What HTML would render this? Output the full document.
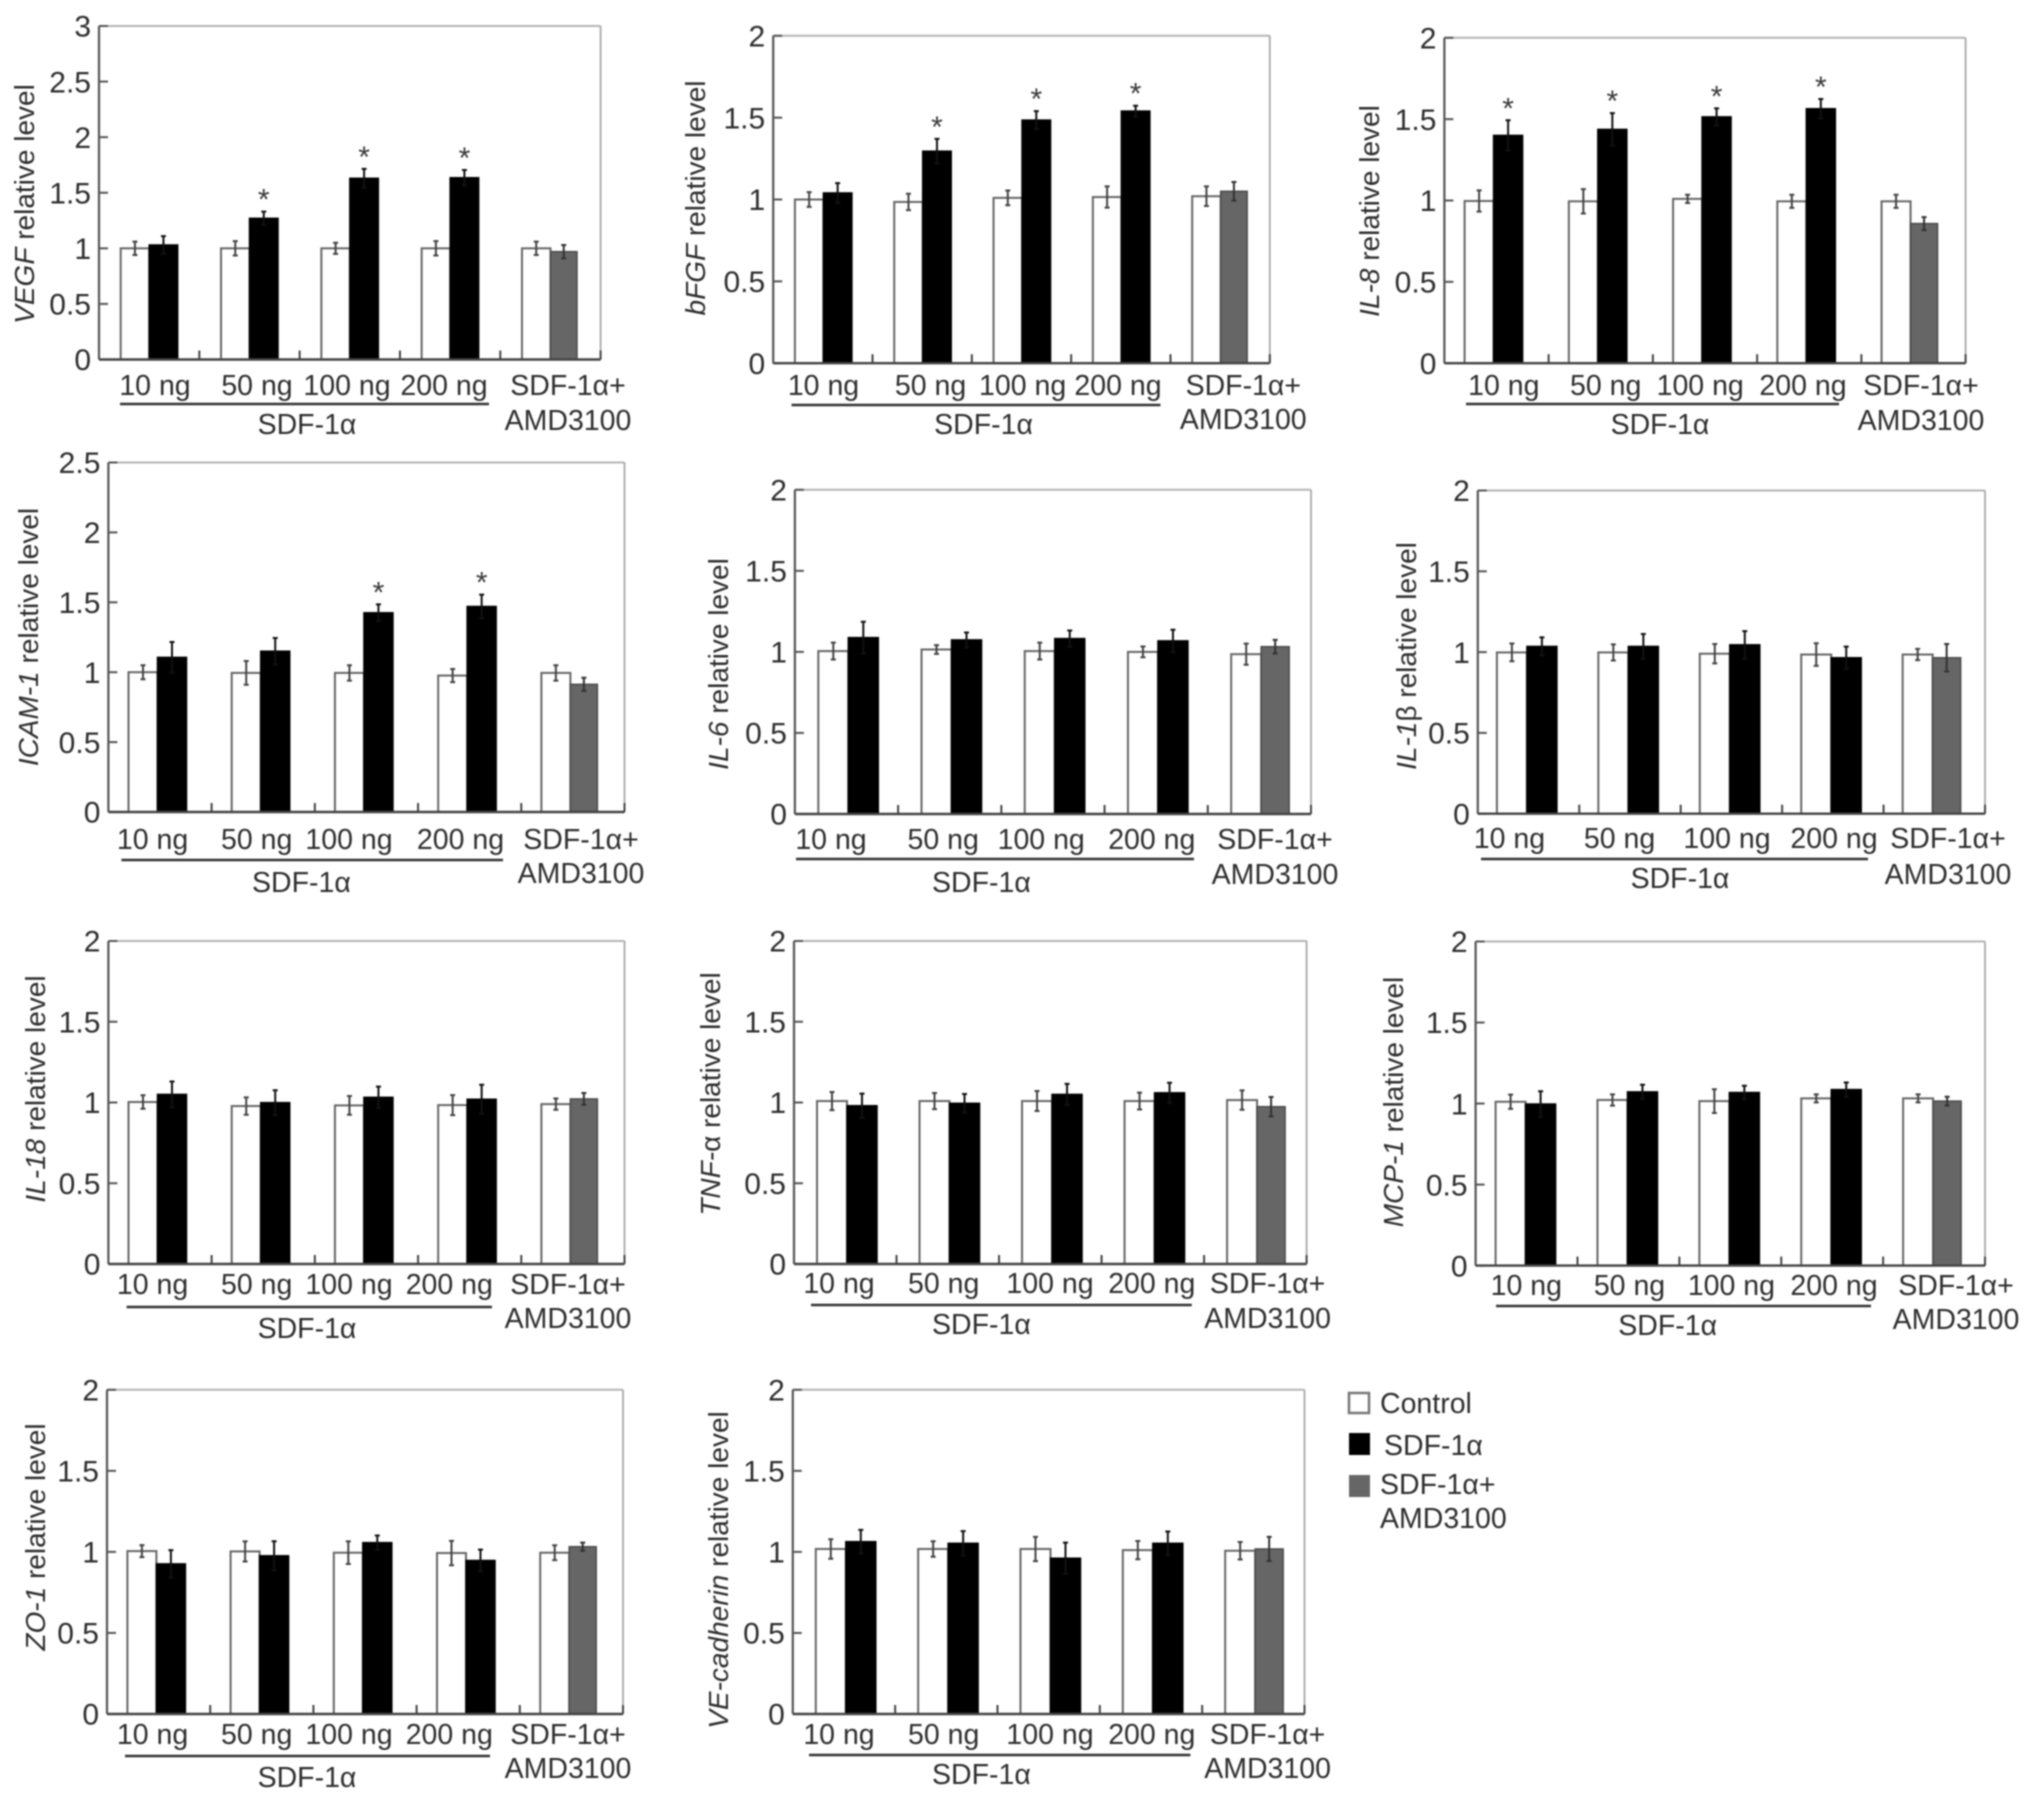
<!DOCTYPE html>
<html lang="en">
<head>
<meta charset="utf-8">
<title>SDF-1α relative expression levels</title>
<style>
html,body{margin:0;padding:0;background:#fff;}
#figure{display:block;width:2032px;height:1800px;filter:blur(0.8px);}
text{font-family:"Liberation Sans",sans-serif;font-size:28.5px;fill:#2e2e2e;}
text.tick{font-size:30px;}
text.ytitle{font-size:28px;}
text.star{font-size:30px;fill:#3a3a3a;}
</style>
</head>
<body>
<svg id="figure" xmlns="http://www.w3.org/2000/svg" width="2032" height="1800" viewBox="0 0 2032 1800">
  <g>
    <g>
      <rect x="1349" y="1393" width="20" height="20" fill="#fff" stroke="#777" stroke-width="2.5"/>
      <text x="1380" y="1413">Control</text>
    </g>
    <g>
      <rect x="1349" y="1433" width="21" height="22" fill="#000"/>
      <text x="1384" y="1455">SDF-1α</text>
    </g>
    <g>
      <rect x="1349" y="1475" width="21" height="22" fill="#666"/>
      <text x="1380" y="1494">SDF-1α+</text>
      <text x="1380" y="1528">AMD3100</text>
    </g>
  </g>
</svg>
<script>
// ---------- shared categories and tick labels ----------
const doseLabels = ['10 ng', '50 ng', '100 ng', '200 ng'];
const ticksTo2 = ['0', '0.5', '1', '1.5', '2'];
const ticksTo25 = ['0', '0.5', '1', '1.5', '2', '2.5'];
const ticksTo3 = ['0', '0.5', '1', '1.5', '2', '2.5', '3'];

// ---------- series values ----------
const vegfControl = [1.0, 1.0, 1.0, 1.0, 1.0];
const vegfTreated = [1.03, 1.27, 1.63, 1.635, 0.97];
const vegfControlErr = [0.06, 0.065, 0.05, 0.065, 0.06];
const vegfTreatedErr = [0.08, 0.06, 0.085, 0.07, 0.06];
const vegfStars = [0, 1, 1, 1, 0];

const bfgfControl = [1.0, 0.985, 1.01, 1.015, 1.02];
const bfgfTreated = [1.04, 1.295, 1.485, 1.54, 1.05];
const bfgfControlErr = [0.045, 0.05, 0.045, 0.065, 0.06];
const bfgfTreatedErr = [0.06, 0.075, 0.055, 0.033, 0.057];
const bfgfStars = [0, 1, 1, 1, 0];

const il8Control = [0.997, 0.995, 1.01, 0.995, 0.995];
const il8Treated = [1.4, 1.437, 1.514, 1.564, 0.858];
const il8ControlErr = [0.065, 0.075, 0.025, 0.04, 0.04];
const il8TreatedErr = [0.093, 0.1, 0.052, 0.06, 0.04];
const il8Stars = [1, 1, 1, 1, 0];

const icamControl = [1.0, 0.995, 0.995, 0.976, 0.995];
const icamTreated = [1.106, 1.15, 1.425, 1.47, 0.913];
const icamControlErr = [0.05, 0.085, 0.055, 0.047, 0.055];
const icamTreatedErr = [0.11, 0.095, 0.06, 0.085, 0.047];
const icamStars = [0, 0, 1, 1, 0];

const il6Control = [1.005, 1.015, 1.005, 1.0, 0.986];
const il6Treated = [1.088, 1.074, 1.082, 1.068, 1.032];
const il6ControlErr = [0.052, 0.027, 0.052, 0.033, 0.065];
const il6TreatedErr = [0.098, 0.046, 0.05, 0.069, 0.042];
const il6Stars = [0, 0, 0, 0, 0];

const il1bControl = [0.998, 0.998, 0.99, 0.985, 0.985];
const il1bTreated = [1.035, 1.035, 1.045, 0.965, 0.965];
const il1bControlErr = [0.055, 0.05, 0.06, 0.07, 0.035];
const il1bTreatedErr = [0.056, 0.077, 0.085, 0.069, 0.085];
const il1bStars = [0, 0, 0, 0, 0];

const il18Control = [1.003, 0.978, 0.982, 0.984, 0.99];
const il18Treated = [1.05, 0.999, 1.032, 1.02, 1.022];
const il18ControlErr = [0.042, 0.054, 0.058, 0.062, 0.035];
const il18TreatedErr = [0.08, 0.077, 0.066, 0.09, 0.037];
const il18Stars = [0, 0, 0, 0, 0];

const tnfControl = [1.009, 1.009, 1.009, 1.009, 1.015];
const tnfTreated = [0.98, 0.995, 1.05, 1.06, 0.974];
const tnfControlErr = [0.056, 0.05, 0.062, 0.052, 0.06];
const tnfTreatedErr = [0.075, 0.058, 0.065, 0.062, 0.06];
const tnfStars = [0, 0, 0, 0, 0];

const mcpControl = [1.011, 1.022, 1.015, 1.032, 1.032];
const mcpTreated = [0.997, 1.072, 1.068, 1.086, 1.015];
const mcpControlErr = [0.044, 0.035, 0.073, 0.025, 0.025];
const mcpTreatedErr = [0.079, 0.044, 0.042, 0.044, 0.027];
const mcpStars = [0, 0, 0, 0, 0];

const zoControl = [1.005, 1.003, 0.995, 0.993, 0.995];
const zoTreated = [0.926, 0.976, 1.057, 0.947, 1.032];
const zoControlErr = [0.037, 0.062, 0.07, 0.075, 0.046];
const zoTreatedErr = [0.085, 0.09, 0.044, 0.067, 0.025];
const zoStars = [0, 0, 0, 0, 0];

const vecadControl = [1.018, 1.018, 1.018, 1.011, 1.007];
const vecadTreated = [1.063, 1.053, 0.961, 1.053, 1.018];
const vecadControlErr = [0.06, 0.048, 0.075, 0.056, 0.054];
const vecadTreatedErr = [0.073, 0.075, 0.096, 0.073, 0.075];
const vecadStars = [0, 0, 0, 0, 0];

// ---------- panel definitions ----------
// Frame and label geometry in page pixels; pad and barW shape the band scale.
const panels = [
  {id:'vegf', title:[['VEGF',1],[' relative level',0]], ticks:ticksTo3, ctrl:vegfControl, trt:vegfTreated, ce:vegfControlErr, te:vegfTreatedErr, stars:vegfStars,
   L:99, R:600.6, T:26, B:359.5, pad:21.7, barW:28.5, doseX:[155,257,347,444], gx:568, sx:307, ul:[120,489], ulY:404, base:395, sdfBase:434, amdBase:430, titleX:34, titleY:204},
  {id:'bfgf', title:[['bFGF',1],[' relative level',0]], ticks:ticksTo2, ctrl:bfgfControl, trt:bfgfTreated, ce:bfgfControlErr, te:bfgfTreatedErr, stars:bfgfStars,
   L:773.2, R:1269.8, T:35.8, B:363.2, pad:21.7, barW:28.5, doseX:[823.5,930.6,1022.6,1118], gx:1243.3, sx:983.6, ul:[791.5,1160.5], ulY:405, base:395, sdfBase:434, amdBase:429, titleX:705, titleY:198},
  {id:'il8', title:[['IL-8',1],[' relative level',0]], ticks:ticksTo2, ctrl:il8Control, trt:il8Treated, ce:il8ControlErr, te:il8TreatedErr, stars:il8Stars,
   L:1444.4, R:1965.6, T:37.8, B:363.2, pad:20.2, barW:29, doseX:[1503.8,1605.7,1700.2,1803], gx:1921, sx:1660, ul:[1466,1839], ulY:404, base:395, sdfBase:434, amdBase:430, titleX:1379, titleY:211},
  {id:'icam', title:[['ICAM-1',1],[' relative level',0]], ticks:ticksTo25, ctrl:icamControl, trt:icamTreated, ce:icamControlErr, te:icamTreatedErr, stars:icamStars,
   L:108.4, R:624.5, T:462.5, B:812, pad:20.1, barW:29, doseX:[152.6,256.7,349,460.5], gx:581, sx:301.4, ul:[121.4,503], ulY:860, base:849, sdfBase:892, amdBase:883, titleX:38, titleY:637},
  {id:'il6', title:[['IL-6',1],[' relative level',0]], ticks:ticksTo2, ctrl:il6Control, trt:il6Treated, ce:il6ControlErr, te:il6TreatedErr, stars:il6Stars,
   L:794.9, R:1311, T:489.8, B:814, pad:23.4, barW:30, doseX:[831,943.2,1041.2,1151.8], gx:1275, sx:981.4, ul:[796,1194], ulY:859, base:849, sdfBase:892, amdBase:884, titleX:728, titleY:664},
  {id:'il1b', title:[['IL-1',1],['β relative level',0]], ticks:ticksTo2, ctrl:il1bControl, trt:il1bTreated, ce:il1bControlErr, te:il1bTreatedErr, stars:il1bStars,
   L:1477.8, R:1985, T:490.5, B:813.7, pad:19.1, barW:30, doseX:[1509.4,1619.6,1727,1834], gx:1948, sx:1680, ul:[1481,1868], ulY:859, base:848, sdfBase:888, amdBase:884, titleX:1416, titleY:656},
  {id:'il18', title:[['IL-18',1],[' relative level',0]], ticks:ticksTo2, ctrl:il18Control, trt:il18Treated, ce:il18ControlErr, te:il18TreatedErr, stars:il18Stars,
   L:108.4, R:624.5, T:941, B:1264, pad:20.1, barW:29, doseX:[152.6,256.7,349,449.3], gx:568, sx:307, ul:[126.6,492], ulY:1307, base:1294, sdfBase:1338, amdBase:1328, titleX:45, titleY:1089},
  {id:'tnf', title:[['TNF-',1],['α relative level',0]], ticks:ticksTo2, ctrl:tnfControl, trt:tnfTreated, ce:tnfControlErr, te:tnfTreatedErr, stars:tnfStars,
   L:794, R:1306.6, T:941, B:1264, pad:23, barW:30, doseX:[839,943.7,1050,1151.8], gx:1267.6, sx:981.4, ul:[811,1191.8], ulY:1305, base:1293, sdfBase:1334, amdBase:1328, titleX:720, titleY:1094},
  {id:'mcp', title:[['MCP-1',1],[' relative level',0]], ticks:ticksTo2, ctrl:mcpControl, trt:mcpTreated, ce:mcpControlErr, te:mcpTreatedErr, stars:mcpStars,
   L:1475.6, R:1985, T:941.5, B:1265.6, pad:20, barW:30, doseX:[1526.3,1629.5,1731.4,1834], gx:1956, sx:1667.7, ul:[1496,1871], ulY:1306, base:1295, sdfBase:1335, amdBase:1329, titleX:1403, titleY:1102},
  {id:'zo', title:[['ZO-1',1],[' relative level',0]], ticks:ticksTo2, ctrl:zoControl, trt:zoTreated, ce:zoControlErr, te:zoTreatedErr, stars:zoStars,
   L:107, R:623, T:1389.8, B:1714, pad:20.4, barW:29, doseX:[152.6,256.7,349,449.3], gx:568, sx:307, ul:[125,490], ulY:1756, base:1744, sdfBase:1787, amdBase:1778, titleX:45, titleY:1537},
  {id:'vecad', title:[['VE-cadherin',1],[' relative level',0]], ticks:ticksTo2, ctrl:vecadControl, trt:vecadTreated, ce:vecadControlErr, te:vecadTreatedErr, stars:vecadStars,
   L:792.8, R:1304.5, T:1389.8, B:1714, pad:23, barW:30, doseX:[839,943.7,1050,1151.8], gx:1267.6, sx:981.4, ul:[809,1190.4], ulY:1755, base:1744, sdfBase:1784, amdBase:1778, titleX:728, titleY:1570}
];

const svgNS = 'http://www.w3.org/2000/svg';
const root = document.getElementById('figure');

function make(tag, attrs, parent) {
  const node = document.createElementNS(svgNS, tag);
  for (const key in attrs) node.setAttribute(key, attrs[key]);
  parent.appendChild(node);
  return node;
}

function drawErrorBar(parent, x, yTop, yBottom, color, label) {
  const eb = make('path', {
    d: 'M' + x + ' ' + yTop + 'V' + yBottom + 'M' + (x - 2.5) + ' ' + yTop + 'H' + (x + 2.5) + 'M' + (x - 2.5) + ' ' + yBottom + 'H' + (x + 2.5),
    fill: 'none', stroke: color, 'stroke-width': 2
  }, parent);
  
  
}

panels.forEach(function (p) {
  const g = make('g', {}, root);
  
  

  const maxValue = Number(p.ticks[p.ticks.length - 1]);
  const yScale = function (v) { return p.B - (v / maxValue) * (p.B - p.T); };
  const bandW = (p.R - p.L) / 5;
  const bandX = function (i) { return p.L + i * bandW; };

  // frame
  const frameTop = make('path', {d: 'M' + p.L + ' ' + p.T + 'H' + p.R, stroke: '#b4b4b4', 'stroke-width': 2, fill: 'none'}, g);
  
  
  const frameRight = make('path', {d: 'M' + p.R + ' ' + p.T + 'V' + p.B, stroke: '#a8a8a8', 'stroke-width': 1.8, fill: 'none'}, g);
  
  
  const yAxis = make('path', {d: 'M' + p.L + ' ' + p.T + 'V' + p.B, stroke: '#555', 'stroke-width': 2.2, fill: 'none'}, g);
  
  

  // y ticks and labels
  p.ticks.forEach(function (label) {
    const y = yScale(Number(label));
    const tick = make('path', {d: 'M' + p.L + ' ' + y + 'H' + (p.L + 9), stroke: '#555', 'stroke-width': 2, fill: 'none'}, g);
    
    
    const txt = make('text', {x: p.L - 8, y: y + 10.7, 'text-anchor': 'end', class: 'tick'}, g);
    txt.textContent = label;
    
    
  });

  // y title
  const title = make('text', {transform: 'translate(' + p.titleX + ' ' + p.titleY + ') rotate(-90)', 'text-anchor': 'middle', class: 'ytitle'}, g);
  
  
  p.title.forEach(function (part) {
    const span = make('tspan', part[1] ? {'font-style': 'italic'} : {}, title);
    span.textContent = part[0];
  });

  // bars, error bars and significance stars
  p.ctrl.forEach(function (value, i) {
    const isLast = i === p.ctrl.length - 1;
    const x0 = bandX(i) + p.pad;
    const yC = yScale(value);
    const ctrlBar = make('rect', {x: x0, y: yC, width: p.barW, height: p.B - yC, fill: '#fff', stroke: '#666', 'stroke-width': 2}, g);
    
    

    const x1 = x0 + p.barW;
    const trtW = isLast ? p.barW - 2 : p.barW;
    const yT = yScale(p.trt[i]);
    const trtBar = make('rect', {x: x1, y: yT, width: trtW, height: p.B - yT, fill: isLast ? '#666' : '#000', stroke: isLast ? '#4a4a4a' : '#000', 'stroke-width': 1.5}, g);
    
    

    drawErrorBar(g, x0 + p.barW / 2, yScale(value + p.ce[i]), yScale(value - p.ce[i]), '#444', 'error-bar-control');
    drawErrorBar(g, x1 + trtW / 2, yScale(p.trt[i] + p.te[i]), yScale(p.trt[i] - p.te[i]), isLast ? '#333' : '#111', isLast ? 'error-bar-sdf-amd' : 'error-bar-sdf');

    if (p.stars[i]) {
      const star = make('text', {x: x1 + trtW / 2, y: yScale(p.trt[i] + p.te[i]) - 2, 'text-anchor': 'middle', class: 'star'}, g);
      star.textContent = '*';
      
      
    }
  });

  // x axis and separators
  const xAxis = make('path', {d: 'M' + p.L + ' ' + p.B + 'H' + p.R, stroke: '#444', 'stroke-width': 2.4, fill: 'none'}, g);
  
  
  for (let i = 1; i <= 5; i++) {
    const xt = make('path', {d: 'M' + bandX(i) + ' ' + p.B + 'V' + (p.B - 9), stroke: '#444', 'stroke-width': 2, fill: 'none'}, g);
    
    
  }

  // dose labels
  doseLabels.forEach(function (label, i) {
    const t = make('text', {x: p.doseX[i], y: p.base, 'text-anchor': 'middle'}, g);
    t.textContent = label;
    
    
  });

  // group underline and group labels
  const ul = make('path', {d: 'M' + p.ul[0] + ' ' + p.ulY + 'H' + p.ul[1], stroke: '#333', 'stroke-width': 2.6, fill: 'none'}, g);
  
  

  const sdf = make('text', {x: p.sx, y: p.sdfBase, 'text-anchor': 'middle'}, g);
  sdf.textContent = 'SDF-1α';
  
  

  const plus = make('text', {x: p.gx, y: p.base, 'text-anchor': 'middle'}, g);
  plus.textContent = 'SDF-1α+';
  
  

  const amd = make('text', {x: p.gx, y: p.amdBase, 'text-anchor': 'middle'}, g);
  amd.textContent = 'AMD3100';
  
  
});
</script>
</body>
</html>
